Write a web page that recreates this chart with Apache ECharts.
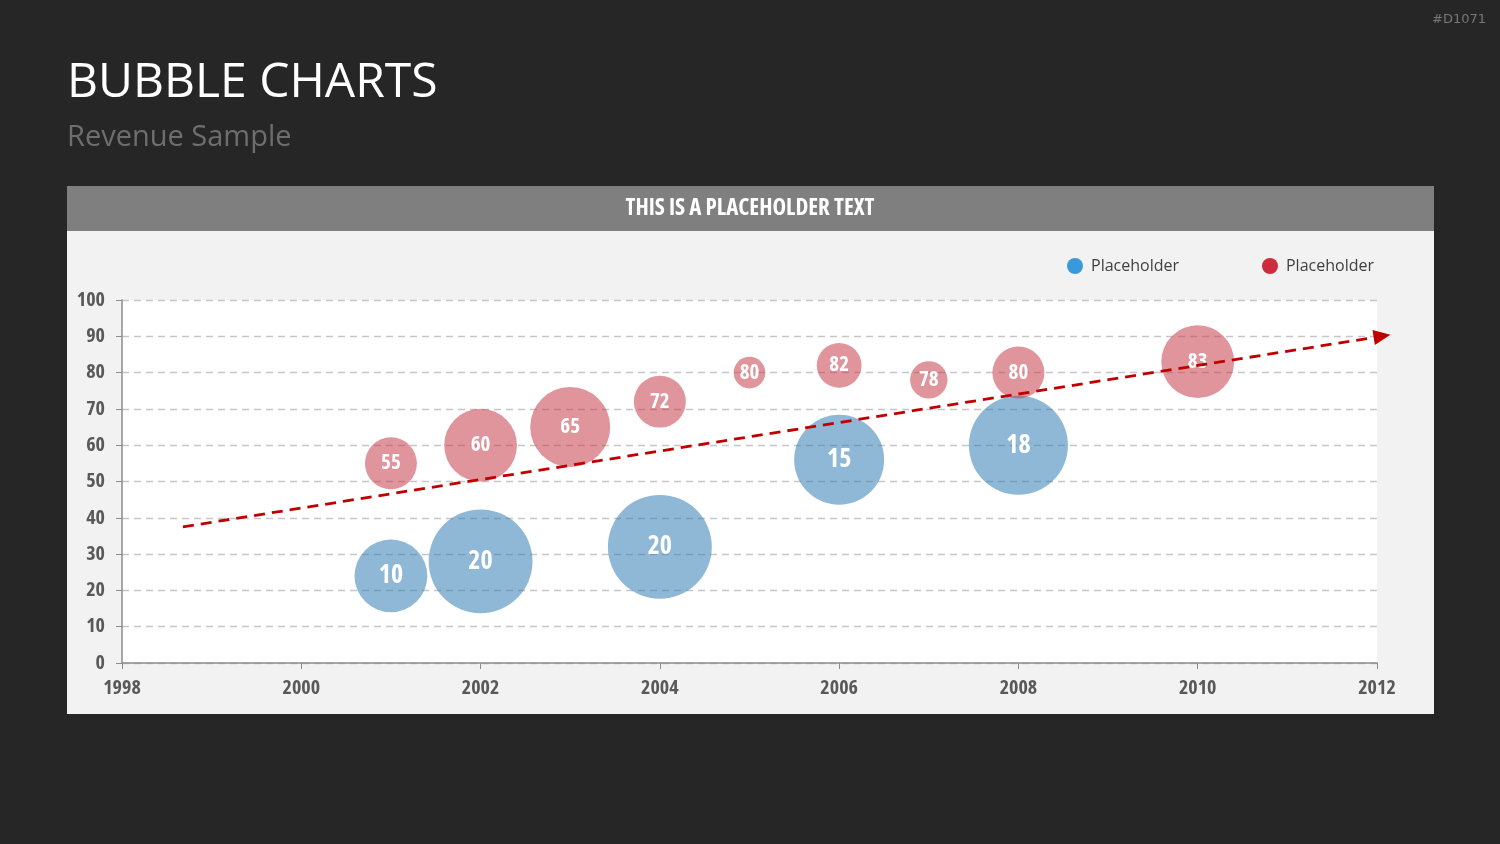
<!DOCTYPE html>
<html>
<head>
<meta charset="utf-8">
<script src="https://cdn.jsdelivr.net/npm/echarts@6/dist/echarts.min.js"></script>
<style>
html,body{margin:0;padding:0;background:#262626;}
#chart{width:1500px;height:844px;}
</style>
</head>
<body>
<div id="chart"></div>
<script>
// ---- data ----
const xTicks = [1998, 2000, 2002, 2004, 2006, 2008, 2010, 2012];
const yTicks = [0, 10, 20, 30, 40, 50, 60, 70, 80, 90, 100];
const seriesNames = ['Placeholder', 'Placeholder'];

const blueYears  = [2001, 2002, 2004, 2006, 2008];
const blueValues = [24, 28, 32, 56, 60];
const blueWeight = [53, 108, 108, 81, 98];
const blueLabels = [10, 20, 20, 15, 18];

const redYears  = [2001, 2002, 2003, 2004, 2005, 2006, 2007, 2008, 2010];
const redValues = [55, 60, 65, 72, 80, 82, 78, 80, 83];
const redWeight = [27, 53, 64, 27, 10, 20, 14, 27, 53];
const redLabels = [55, 60, 65, 72, 80, 82, 78, 80, 83];

const trendStart = [1998.68, 37.5];
const trendEnd   = [2012.15, 90.4];

// ---- build ----
const condFamily = "'Open Sans', 'DejaVu Sans', sans-serif";
const condWeight = 'bold condensed';
function build(xs, ys, ws, ls) {
  return xs.map((x, i) => [x, ys[i], ws[i], ls[i]]);
}
const sizeFn = v => Math.sqrt(v[2]) * 10;

const baseGraphic = [
  { type: 'text', left: 67, top: 59, style: { text: 'BUBBLE CHARTS', fill: '#ffffff', font: "400 48px 'Open Sans', sans-serif" } },
  { type: 'text', left: 67, top: 123, style: { text: 'Revenue Sample', fill: '#6e6e6e', font: "400 29px 'Open Sans', sans-serif" } },
  { type: 'text', right: 14, top: 13, style: { text: '#D1071', fill: '#777777', font: "400 13px 'DejaVu Sans', sans-serif" } },
  { type: 'rect', z: -10, shape: { x: 67, y: 186, width: 1367, height: 528 }, style: { fill: '#f2f2f2' } },
  { type: 'rect', z: -9, shape: { x: 67, y: 186, width: 1367, height: 45 }, style: { fill: '#7f7f7f' } },
  { type: 'text', z: -8, x: 750, y: 208, style: { text: 'THIS IS A PLACEHOLDER TEXT', fill: '#ffffff', align: 'center', verticalAlign: 'middle', font: "bold condensed 23px " + condFamily } }
];

const chart = echarts.init(document.getElementById('chart'));
chart.setOption({
  backgroundColor: '#262626',
  animation: false,
  graphic: baseGraphic,
  legend: {
    left: 1062, top: 253,
    itemWidth: 16, itemHeight: 16, itemGap: 83,
    icon: 'circle',
    textStyle: { color: '#404040', fontSize: 16, fontFamily: "'Open Sans', sans-serif", padding: [0, 0, 0, 3] },
    data: [
      { name: 'blue', itemStyle: { color: '#3a99dc', opacity: 1 } },
      { name: 'red', itemStyle: { color: '#cc2c3e', opacity: 1 } }
    ],
    formatter: n => n === 'blue' ? seriesNames[0] : seriesNames[1]
  },
  grid: { left: 122, right: 123, top: 300, bottom: 181, show: true, backgroundColor: '#ffffff', borderWidth: 0 },
  xAxis: {
    type: 'value', min: xTicks[0], max: xTicks[xTicks.length - 1], interval: 2,
    axisLine: { lineStyle: { color: '#8c8c8c', width: 1.5 } },
    axisTick: { show: true, length: 6, lineStyle: { color: '#8c8c8c' } },
    splitLine: { show: false },
    axisLabel: { color: '#595959', fontSize: 20, fontWeight: condWeight, fontFamily: condFamily, margin: 15, formatter: v => String(v) }
  },
  yAxis: {
    type: 'value', min: yTicks[0], max: yTicks[yTicks.length - 1], interval: 10,
    axisLine: { show: true, lineStyle: { color: '#8c8c8c', width: 1.5 } },
    axisTick: { show: true, length: 6, lineStyle: { color: '#8c8c8c' } },
    splitLine: { show: true, lineStyle: { color: '#c6c6c6', type: [7, 5], width: 1.3 } },
    axisLabel: { color: '#595959', fontSize: 20, fontWeight: condWeight, fontFamily: condFamily, margin: 17 }
  },
  series: [
    {
      name: 'blue', type: 'scatter',
      data: build(blueYears, blueValues, blueWeight, blueLabels),
      symbolSize: sizeFn,
      itemStyle: { color: 'rgba(51,126,180,0.55)', opacity: 1 },
      label: { show: true, position: 'inside', formatter: p => p.value[3], color: '#ffffff', fontSize: 26, fontWeight: condWeight, fontFamily: condFamily },
      emphasis: { disabled: true },
      z: 2
    },
    {
      name: 'red', type: 'scatter',
      data: build(redYears, redValues, redWeight, redLabels),
      symbolSize: sizeFn,
      itemStyle: { color: 'rgba(199,60,73,0.55)', opacity: 1 },
      label: { show: true, position: 'inside', formatter: p => p.value[3], color: '#ffffff', fontSize: 21, fontWeight: condWeight, fontFamily: condFamily },
      emphasis: { disabled: true },
      z: 3
    }
  ]
});

// trend arrow: data coordinates converted through the axes (extends past the axis max)
const p1 = chart.convertToPixel({ gridIndex: 0 }, trendStart);
const p2 = chart.convertToPixel({ gridIndex: 0 }, trendEnd);
const dx = p2[0] - p1[0], dy = p2[1] - p1[1];
const len = Math.sqrt(dx * dx + dy * dy);
const ux = dx / len, uy = dy / len;
const headLen = 17, headHalf = 7.5;
const bx = p2[0] - ux * headLen, by = p2[1] - uy * headLen;
const lineEnd = [p2[0] - ux * (headLen - 2), p2[1] - uy * (headLen - 2)];

chart.setOption({
  graphic: baseGraphic.concat([
    { type: 'polyline', z: 20, shape: { points: [p1, lineEnd] }, style: { stroke: '#c00000', lineWidth: 2.8, lineDash: [11, 7], fill: null } },
    { type: 'polygon', z: 20, shape: { points: [p2, [bx - uy * headHalf, by + ux * headHalf], [bx + uy * headHalf, by - ux * headHalf]] }, style: { fill: '#c00000' } }
  ])
}, { replaceMerge: ['graphic'] });
</script>
</body>
</html>
